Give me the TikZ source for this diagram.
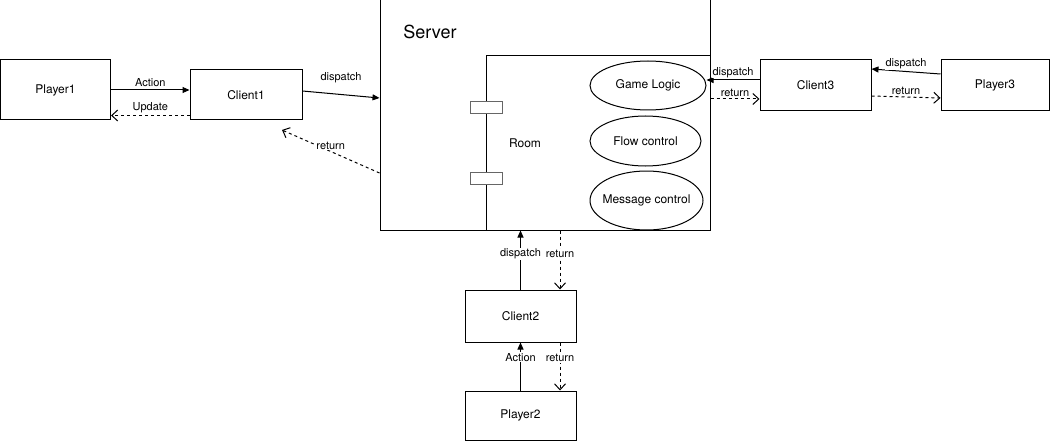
\documentclass[tikz,border=0pt]{standalone}
\usepackage{fontspec}
\setmainfont{TeX Gyre Heros}
\usetikzlibrary{arrows.meta,shapes.geometric}
\tikzset{
  box/.style={draw, line width=1pt, minimum width=111pt, minimum height=51pt, font=\fontsize{12}{14}\selectfont},
  oval/.style={draw, ellipse, line width=1pt, inner xsep=-8pt, inner ysep=0pt, font=\fontsize{12}{14}\selectfont},
  port/.style={draw=gray!80!black, line width=1pt, minimum width=32pt, minimum height=12pt, inner sep=0pt},
  lbl/.style={fill=white, inner sep=1pt, font=\fontsize{11}{12}\selectfont},
  fwd/.style={line width=1pt, -{Triangle[length=7pt,width=6pt]}},
  ret/.style={line width=1pt, dash pattern=on 3pt off 3pt, -{Straight Barb[length=6pt,width=11pt]}},
}
\begin{document}
\begin{tikzpicture}[x=1pt,y=-1pt]
\useasboundingbox (0,0) rectangle (1051,441);
\node[box, minimum width=110pt, minimum height=60pt] (p1) at (55.5,90){Player1};
\node[box, minimum width=112pt, minimum height=50pt] (c1) at (246,95){Client1};
\node[draw, line width=1pt, minimum width=330pt, minimum height=230pt] (srv) at (545,115){};
\node[font=\fontsize{18}{20}\selectfont] (srvlbl) at (430,32){Server};
\node[draw, line width=1pt, minimum width=224pt, minimum height=174pt] (room) at (598,143){};
\node[port, fill=white] (port1) at (486,108){};
\node[port, fill=white] (port2) at (486,178){};
\node[font=\fontsize{12}{14}\selectfont] (roomlbl) at (525,143){Room};
\node[oval, minimum width=116pt, minimum height=49pt] (gl) at (648,85.5){Game Logic};
\node[oval, minimum width=111pt, minimum height=50pt] (fc) at (645.5,141){Flow control};
\node[oval, minimum width=113pt, minimum height=59pt] (mc) at (646.5,200.5){Message control};
\node[box] (c3) at (815.5,85.5){Client3};
\node[box, minimum width=108pt] (p3) at (995,85.5){Player3};
\node[box, minimum height=52pt] (c2) at (520.5,316){Client2};
\node[box, minimum height=49pt] (p2) at (520.5,415.5){Player2};
\draw[fwd](p1.east) -- (c1.west |- p1.east) node[lbl, midway, above=2pt] (lact1){Action};
\draw[ret]([yshift=5pt]c1.south west) -- ([yshift=5pt]p1.south east) node[lbl, midway, above=1pt] (lupd1){Update};
\draw[fwd]([yshift=4pt]c1.east) -- ([yshift=17pt]srv.west) node[lbl, midway, above=10pt] (ldis1){dispatch};
\coordinate (r1) at (282,130);
\draw[ret]([yshift=-58pt]srv.west) -- (r1) node[lbl, pos=0.5, yshift=6pt] (lret1){return};
\coordinate (d3) at ([yshift=5.5pt]c3.west);
\coordinate (d3r) at ([yshift=-13.5pt]c3.west);
\draw[fwd](d3) -- (d3 -| gl.east) node[lbl, midway, above=1pt] (ldis3){dispatch};
\draw[ret](d3r -| room.east) -- (d3r) node[lbl, midway, above=1pt] (lret3){return};
\draw[fwd]([yshift=11.5pt]p3.west) -- ([yshift=16.5pt]c3.east) node[lbl, midway, above=1pt] (ldis3p){dispatch};
\draw[ret]([yshift=-10.5pt]c3.east) -- ([yshift=-12.5pt]p3.west) node[lbl, midway, above=1pt] (lret3p){return};
\coordinate (r2) at ([xshift=39.5pt]c2.north);
\coordinate (r2b) at ([xshift=39.5pt]c2.south);
\draw[fwd](c2.north) -- (c2.north |- srv.south) node[lbl, pos=0.6] (ldis2){dispatch};
\draw[ret](r2 |- srv.south) -- (r2) node[lbl, pos=0.4] (lret2){return};
\draw[fwd](p2.north) -- (c2.south) node[lbl, pos=0.69] (lact2){Action};
\draw[ret](r2b) -- (r2b |- p2.north) node[lbl, pos=0.33] (lret2b){return};
\end{tikzpicture}
\end{document}
